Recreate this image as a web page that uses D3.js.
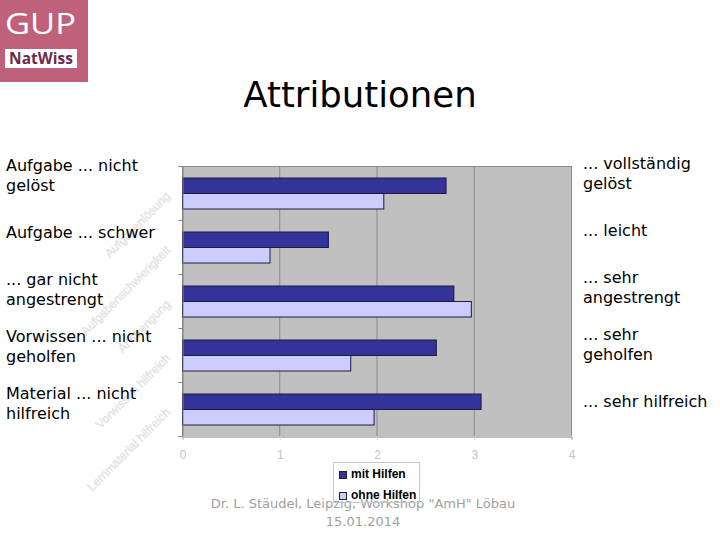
<!DOCTYPE html>
<html><head><meta charset="utf-8">
<script src="https://cdn.jsdelivr.net/npm/d3@7"></script>
<style>body{margin:0;background:#fff}svg{display:block}</style>
</head><body>
<script>
const categories = ["Aufgabenlösung","Aufgabenschwierigkeit","Anstrengung","Vorwissen hilfreich","Lernmaterial hilfreich"];
const leftLabels = ["Aufgabe ... nicht\ngelöst","Aufgabe ... schwer","... gar nicht\nangestrengt","Vorwissen ... nicht\ngeholfen","Material ... nicht\nhilfreich"];
const rightLabels = ["... vollständig\ngelöst","... leicht","... sehr\nangestrengt","... sehr\ngeholfen","... sehr hilfreich"];
const seriesNames = ["mit Hilfen","ohne Hilfen"];
const mitHilfen = [2.71, 1.50, 2.79, 2.61, 3.07];
const ohneHilfen = [2.07, 0.90, 2.97, 1.73, 1.97];
const xTicks = [0,1,2,3,4];
const title = "Attributionen";
const footer = ["Dr. L. Stäudel, Leipzig, Workshop \"AmH\" Löbau","15.01.2014"];

const W=720,H=540;
const svg=d3.select("body").append("svg").attr("width",W).attr("height",H);

// logo
svg.append("rect").attr("x",0).attr("y",0).attr("width",88).attr("height",82).attr("fill","#c0617c");
svg.append("text").attr("x",5).attr("y",34).attr("fill","#fff").attr("font-family","Open Sans, sans-serif")
  .attr("font-size",30).attr("textLength",71).attr("lengthAdjust","spacingAndGlyphs").text("GUP");
svg.append("rect").attr("x",5).attr("y",49).attr("width",72).attr("height",19).attr("fill","#fff");
svg.append("text").attr("x",41).attr("y",64).attr("text-anchor","middle").attr("fill","#6e2b48")
  .attr("font-family","Open Sans, sans-serif").attr("font-weight","bold").attr("font-size",15.5).text("NatWiss");

// title
svg.append("text").attr("x",360).attr("y",107).attr("text-anchor","middle").attr("fill","#000")
  .attr("font-family","DejaVu Sans, sans-serif").attr("font-size",35.5).text(title);

const x=d3.scaleLinear().domain([0,4]).range([182,571]);
const y=d3.scaleBand().domain(categories).range([166,436]).padding(0);
const ys=d3.scaleBand().domain(seriesNames).range([11.5,42.5]);
const colors={"mit Hilfen":"#333399","ohne Hilfen":"#ccccff"};

// watermark labels
svg.append("g").selectAll("text").data(categories).join("text")
  .attr("transform",d=>`translate(171,${y(d)+y.bandwidth()/2+4}) rotate(-45)`)
  .attr("text-anchor","end").attr("font-family","Liberation Sans, Arial, sans-serif").attr("font-size",12)
  .attr("fill","#e8e8e8").attr("stroke","#dadada").attr("stroke-width",0.3).text(d=>d);

// plot background
svg.append("rect").attr("x",182).attr("y",166).attr("width",389).attr("height",270).attr("fill","#c0c0c0");
// grid
svg.append("g").selectAll("line").data(xTicks).join("line")
  .attr("x1",d=>x(d)+0.5).attr("x2",d=>x(d)+0.5).attr("y1",166).attr("y2",436).attr("stroke","#8a8a8a");
svg.append("line").attr("x1",182).attr("x2",571).attr("y1",166.5).attr("y2",166.5).attr("stroke","#8a8a8a");

// bars
const rows=categories.map((c,i)=>({c,vals:[{s:"mit Hilfen",v:mitHilfen[i]},{s:"ohne Hilfen",v:ohneHilfen[i]}]}));
const g=svg.append("g").selectAll("g").data(rows).join("g").attr("transform",d=>`translate(0,${y(d.c)})`);
g.selectAll("rect").data(d=>d.vals).join("rect")
  .attr("x",x(0)+0.5).attr("y",d=>ys(d.s)+0.5).attr("width",d=>x(d.v)-x(0)).attr("height",ys.bandwidth())
  .attr("fill",d=>colors[d.s]).attr("stroke","#1a1a40").attr("stroke-width",1);

// axes
const yAxis=d3.axisLeft(d3.scaleLinear().domain([0,5]).range([166,436])).ticks(5).tickSize(4).tickFormat("");
svg.append("g").attr("transform","translate(182.5,0)").call(yAxis).call(s=>s.selectAll("line,path").attr("stroke","#808080"));
const xAxis=d3.axisBottom(x).tickValues(xTicks).tickSize(3).tickPadding(11).tickFormat(d3.format("d"));
svg.append("g").attr("transform","translate(0.5,436.5)").call(xAxis)
  .call(s=>s.select(".domain").attr("stroke","#808080"))
  .call(s=>s.selectAll(".tick line").attr("stroke","#d0d0d0"))
  .call(s=>s.selectAll("text").attr("fill","#c4c4c4").attr("font-size",12).attr("font-family","Liberation Sans, Arial, sans-serif"));

// side labels
const lp=d3.scalePoint().domain(categories).range([176,404]);
const rp=d3.scalePoint().domain(categories).range([174,402]);
function labels(arr,xpos,scale){
  svg.append("g").selectAll("text").data(arr).join("text")
    .attr("font-family","DejaVu Sans, Verdana, sans-serif").attr("font-size",16).attr("fill","#000")
    .each(function(d,i){
      const lines=d.split("\n");
      const c=scale(categories[i]);
      const y0=c+5-(lines.length-1)*9.75;
      d3.select(this).selectAll("tspan").data(lines).join("tspan").attr("x",xpos).attr("y",(l,j)=>y0+j*19.5).text(l=>l);
    });
}
labels(leftLabels,6,lp);
labels(rightLabels,583,rp);

// footer
svg.append("g").selectAll("text").data(footer).join("text")
  .attr("x",363).attr("y",(d,i)=>508+i*18).attr("text-anchor","middle").attr("fill","#a0a0a0")
  .attr("font-family","DejaVu Sans, Verdana, sans-serif").attr("font-size",13).text(d=>d);

// legend
const lg=svg.append("g");
lg.append("rect").attr("x",333.5).attr("y",462.5).attr("width",86).attr("height",40).attr("fill","none").attr("stroke","#c8c8c8");
const li=lg.selectAll("g").data(seriesNames).join("g").attr("transform",(d,i)=>`translate(339,${471+i*21})`);
li.append("rect").attr("x",0.5).attr("y",0.5).attr("width",7).attr("height",7).attr("fill",d=>colors[d]).attr("stroke","#222");
li.append("text").attr("x",12).attr("y",7).attr("font-family","Liberation Sans, Arial, sans-serif").attr("font-weight","bold")
  .attr("font-size",12).attr("fill","#000").text(d=>d);
</script>
</body></html>
